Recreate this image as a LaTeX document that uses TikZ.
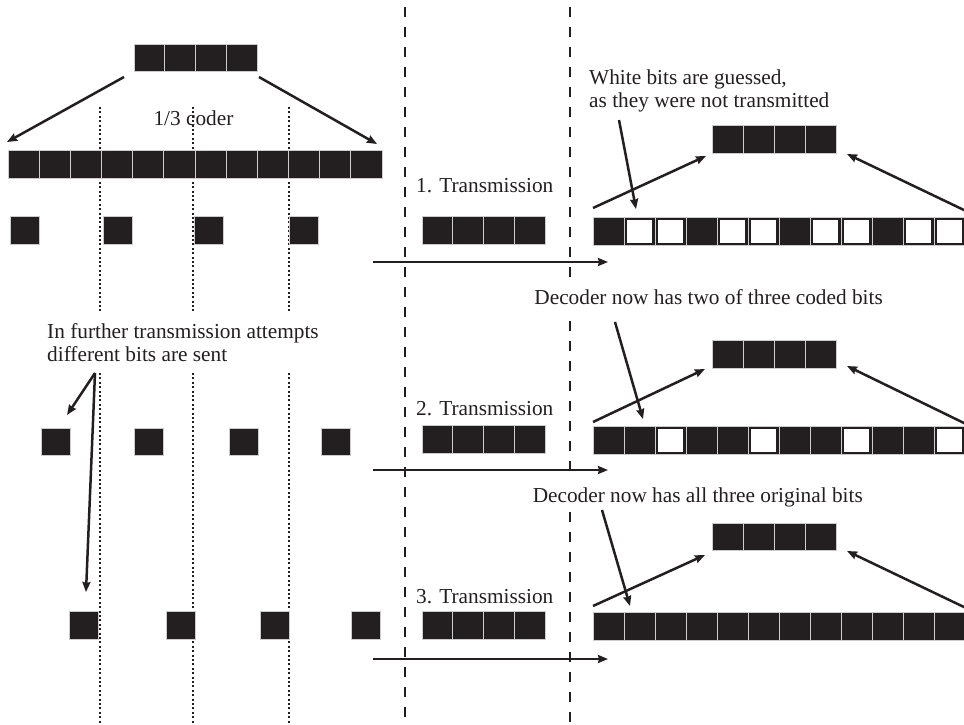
\documentclass[tikz,border=0pt]{standalone}
\usepackage{fontspec}
\setmainfont{Liberation Serif}
\usetikzlibrary{arrows.meta}
\definecolor{ink}{RGB}{35,31,32}
\tikzset{
  lbl/.style={font=\fontsize{21.3}{23}\selectfont, text=ink, inner sep=0pt},
  bitb/.style={rectangle, fill=ink, draw=gray!40, line width=0.9pt, inner sep=0pt, outer sep=0pt, minimum height=27.5pt},
  bitw/.style={rectangle, fill=white, draw=ink, line width=1.8pt, inner sep=0pt, outer sep=0pt},
  arr/.style={draw=ink, line width=2.5pt, -{Stealth[length=10pt,width=8pt,inset=1pt]}},
  dashline/.style={draw=ink, line width=2.8pt, dash pattern=on 9.5pt off 10.5pt},
  dotline/.style={draw=ink, line width=2pt, dash pattern=on 2pt off 2.4pt}
}
\begin{document}
\begin{tikzpicture}[x=1pt,y=-1pt]
\useasboundingbox (0,0) rectangle (964,724);
\fill[white] (0,0) rectangle (964,724);

% ---- vertical separators
\coordinate (dl0) at (405,7);  \coordinate (dl1) at (405,724);
\draw[dashline] (dl0) -- (dl1);
\coordinate (dr0) at (570,7);  \coordinate (dr1) at (570,279);
\coordinate (dr2) at (570,321); \coordinate (dr3) at (570,474);
\coordinate (dr4) at (570,512); \coordinate (dr5) at (570,724);
\draw[dashline] (dr0) -- (dr1);
\draw[dashline] (dr2) -- (dr3);
\draw[dashline] (dr4) -- (dr5);
\foreach \x [count=\k] in {100,193,289}{
  \coordinate (p\k a) at (\x,107); \coordinate (p\k b) at (\x,312);
  \coordinate (p\k c) at (\x,373); \coordinate (p\k d) at (\x,724);
  \draw[dotline] (p\k a) -- (p\k b);
  \draw[dotline] (p\k c) -- (p\k d);
}

% ---- encoder side
\foreach \i in {1,...,4}{
  \node[bitb, minimum width=30.75pt] (src\i) at ({134+30.75*(\i-0.5)},58) {};
}
\foreach \i in {1,...,12}{
  \node[bitb, minimum width=31.17pt] (enc\i) at ({8+31.17*(\i-0.5)},164.5) {};
}
\foreach \x [count=\k] in {24.5,118,208.5,304}{
  \node[bitb, minimum width=29pt] (sa\k) at (\x,230.5) {};
}
\foreach \x [count=\k] in {55.5,148.5,243.5,335.5}{
  \node[bitb, minimum width=29pt] (sb\k) at (\x,442) {};
}
\foreach \x [count=\k] in {83.5,180.5,274.5,365.5}{
  \node[bitb, minimum width=29pt] (sc\k) at (\x,625.5) {};
}
\node[lbl, anchor=base] (coder) at (193.5,125) {1/3 coder};
\coordinate (c1s) at (124,77); \coordinate (c1e) at (7,142);
\coordinate (c2s) at (259,77); \coordinate (c2e) at (377,144);
\draw[arr] (c1s) -- (c1e);
\draw[arr] (c2s) -- (c2e);

\node[lbl, align=left, anchor=north west] (further) at (47,323.5)
  {In further transmission attempts\\different bits are sent};
\coordinate (fs) at (95,373);
\coordinate (fe1) at (67,415); \coordinate (fe2) at (86,592);
\draw[arr] (fs) -- (fe1);
\draw[arr] (fs) -- (fe2);

% ---- channel
\foreach \r/\yl/\yb in {1/192/230.5, 2/415.5/439.5, 3/603.5/625.5}{
  \node[lbl, anchor=base west] (tr\r) at (416,\yl) {\r. Transmission};
  \foreach \i in {1,...,4}{
    \node[bitb, minimum width=30.75pt] (tx\r-\i) at ({422+30.75*(\i-0.5)},\yb) {};
  }
}
\foreach \r/\y in {1/262, 2/470, 3/659}{
  \coordinate (h\r s) at (373,\y); \coordinate (h\r e) at (608,\y);
  \draw[arr] (h\r s) -- (h\r e);
}

% ---- decoder side
\foreach \r/\yt/\yr/\pat in {1/139.5/231.5/{1,0,0,1,0,0,1,0,0,1,0,0},
                             2/354.5/440.5/{1,1,0,1,1,0,1,1,0,1,1,0},
                             3/537/626.5/{1,1,1,1,1,1,1,1,1,1,1,1}}{
  \foreach \i in {1,...,4}{
    \node[bitb, minimum width=31pt] (dec\r-\i) at ({712+31*(\i-0.5)},\yt) {};
  }
  \foreach \b [count=\i] in \pat{
    \node[bitb, minimum width=31pt] (rx\r-\i) at ({593+31*(\i-0.5)},\yr) {};
    \ifnum\b=0
      \node[bitw, minimum width=27.6pt, minimum height=24.3pt] (rw\r-\i) at (rx\r-\i) {};
    \fi
  }
}

\node[lbl, align=left, anchor=north west] (white) at (589,69.5)
  {White bits are guessed,\\as they were not transmitted};
\node[lbl, anchor=base east] (dtwo) at (883,304) {Decoder now has two of three coded bits};
\node[lbl, anchor=base east] (dall) at (863,502) {Decoder now has all three original bits};

% row 1 arrows
\coordinate (w1s) at (619,120); \coordinate (w1e) at (636,209);
\coordinate (l1s) at (593,208); \coordinate (l1e) at (706,156);
\coordinate (r1s) at (966,211); \coordinate (r1e) at (847,154);
\draw[arr] (w1s) -- (w1e);
\draw[arr] (l1s) -- (l1e);
\draw[arr] (r1s) -- (r1e);
% row 2 arrows
\coordinate (w2s) at (615,322); \coordinate (w2e) at (643,419);
\coordinate (l2s) at (593,422); \coordinate (l2e) at (705,369);
\coordinate (r2s) at (966,424); \coordinate (r2e) at (847,366);
\draw[arr] (w2s) -- (w2e);
\draw[arr] (l2s) -- (l2e);
\draw[arr] (r2s) -- (r2e);
% row 3 arrows
\coordinate (w3s) at (602,510); \coordinate (w3e) at (630,606);
\coordinate (l3s) at (593,606); \coordinate (l3e) at (705,555);
\coordinate (r3s) at (966,608); \coordinate (r3e) at (847,551);
\draw[arr] (w3s) -- (w3e);
\draw[arr] (l3s) -- (l3e);
\draw[arr] (r3s) -- (r3e);
\end{tikzpicture}
\end{document}
